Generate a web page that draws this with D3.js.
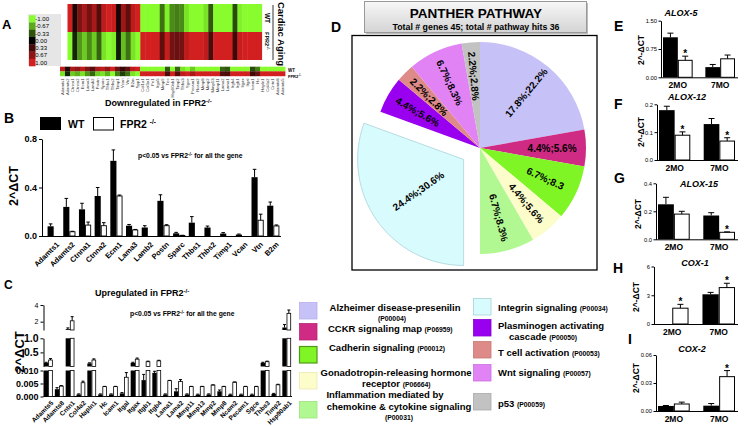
<!DOCTYPE html>
<html><head><meta charset="utf-8">
<script src="https://cdn.jsdelivr.net/npm/d3@7/dist/d3.min.js"></script>
<style>
html,body{margin:0;padding:0;background:#fff;}
svg{display:block;font-family:Arial,"Liberation Sans",Helvetica,sans-serif;}
</style></head><body>
<svg id="fig" width="745" height="426"></svg>
<script>
// ================= DATA =================
// Panel A heatmaps
const heatLegendValues = [-1, -0.67, -0.33, 0, 0.33, 0.67, 1];
const heatLegendLabels = ["-1.00", "-0.67", "-0.33", "0.00", "0.33", "0.67", "1.00"];
const heatRows = ["WT", "FPR2"];
const heatTopWT = [1, 0.15, 0.6, 0.8, 0.55, 0.8, 0.4, 0.9, 1, 0.95, 0.12, 0.75, 0.45, 0.9, 1,
  -1, -1, -1, -1, -0.45, -0.95, -0.55, -0.5, -0.55, -0.9, -1, -1, -1, -0.9, -0.35, -1, -1, -1, -1, -0.3, -0.95, -1, -1, -1, -1];
const heatGenes = ["Adamts1", "Adamts2", "Ctnna1", "Ctnna2", "Ecm1", "Lama3", "Lamb2", "Postn", "Sparc", "Thbs1", "Thbs2", "Timp1", "Vcan", "Vtn", "B2m", "Spp1",
  "Col1a1", "Col3a1", "Fn1", "Itga5", "Mmp9", "Tnc", "Hsp90ab1", "Timp2", "Thbs3", "Sgce", "Pecam1", "Ncam2", "Mmp8", "Mmp2", "Mmp13", "Mmp11", "Lama2", "Lama1",
  "Itgb4", "Itgb1", "Itgax", "Itgal", "Icam1", "Hc", "Hapln1", "Col4a2", "Cntn1", "Adamts8", "Adamts5"];
const heatBottomWT = [0.9, 0.15, 0.8, 0.7, 0.9, 0.6, 0.4, 0.8, 0.9, 0.7, 1, 0.5, 0.25, 0.45, 0.9, 1,
  -1, -1, -1, -1, -1, -0.35, -1, -0.4, -0.9, -1, -0.8, -1, -1, -1, -1, -1, -0.4, -0.35, -1, -1, -1, -1, -0.3, -0.5, -1, -1, -1, -1, -1];

// Panel B
const genesB = ["Adamts1", "Adamts2", "Ctnna1", "Ctnna2", "Ecm1", "Lama3", "Lamb2", "Postn", "Sparc", "Thbs1", "Thbs2", "Timp1", "Vcan", "Vtn", "B2m"];
const wtB = [0.08, 0.24, 0.22, 0.33, 0.62, 0.085, 0.07, 0.29, 0.022, 0.11, 0.07, 0.02, 0.012, 0.485, 0.25];
const wtBErr = [0.02, 0.07, 0.05, 0.07, 0.09, 0.01, 0.015, 0.05, 0.008, 0.05, 0.012, 0.008, 0.004, 0.065, 0.03];
const koB = [0, 0.035, 0.09, 0.085, 0.33, 0.05, 0, 0.085, 0.004, 0, 0, 0, 0, 0.13, 0.083];
const koBErr = [0, 0.004, 0.025, 0.025, 0.008, 0.004, 0, 0.008, 0.002, 0, 0, 0, 0, 0.05, 0.008];
const ticksB = [0, 0.4, 0.8];

// Panel C
const genesC = ["Adamts5", "Adamts8", "Cntn1", "Col4a2", "Hapln1", "Hc", "Icam1", "Itgal", "Itgax", "Itgb1", "Itgb4", "Lama1", "Lama2", "Mmp11", "Mmp13", "Mmp2", "Mmp8", "Ncam2", "Pecam1", "Sgce", "Thbs3", "Timp2", "Hsp90ab1"];
const wtC = [0.13, 0.0028, 1.1, 0.0008, 0.11, 0.0008, 0.0008, 0.0012, 0.13, 0.0063, 0.0091, 0.0008, 0.002, 0.0008, 0.0007, 0.0008, 0.002, 0.0007, 0.0007, 0.0007, 0.13, 0.001, 1.3];
const wtCErr = [0.02, 0.0006, 0.15, 0.0002, 0.02, 0.0002, 0.0002, 0.0003, 0.02, 0.0022, 0.0006, 0.0002, 0.001, 0.0002, 0.0002, 0.0002, 0.0005, 0.0002, 0.0002, 0.0002, 0.02, 0.0002, 0.35];
const koC = [0.23, 0.004, 2.1, 0.0053, 0.23, 0.0038, 0.0038, 0.0074, 0.26, 0.17, 0.2, 0.0061, 0.0058, 0.0038, 0.0038, 0.0044, 0.0038, 0.0055, 0.0038, 0.0038, 0.17, 0.0045, 3.0];
const koCErr = [0.05, 0.0002, 0.5, 0.0006, 0.04, 0.0001, 0.0001, 0.0018, 0.04, 0.02, 0.02, 0.0001, 0.0007, 0.0001, 0.0001, 0.0001, 0.0001, 0.0001, 0.0001, 0.0001, 0.02, 0.0002, 0.4];
const ticksCBottom = [0, 0.005, 0.01];
const ticksCMid = [0.5, 1];
const ticksCTop = [2, 4];

// Panel D (PANTHER pie)
const pathways = ["Alzheimer disease-presenilin", "CCKR signaling map", "Cadherin signaling", "Gonadotropin-releasing hormone receptor",
  "Inflammation mediated by chemokine & cytokine signaling", "Integrin signaling", "Plasminogen activating cascade", "T cell activation", "Wnt signaling", "p53"];
const pathwayIds = ["P00004", "P06959", "P00012", "P06664", "P00031", "P00034", "P00050", "P00053", "P00057", "P00059"];
const pathwayHits = [8, 2, 3, 2, 3, 11, 2, 1, 3, 1];
const pctGenes = ["17.8%", "4.4%", "6.7%", "4.4%", "6.7%", "24.4%", "4.4%", "2.2%", "6.7%", "2.2%"];
const pctHits = ["22.2%", "5.6%", "8.3", "5.6%", "8.3%", "30.6%", "5.6%", "2.8%", "8.3%", "2.8%"];
const pieColors = ["#c6c2f8", "#cf2a84", "#80f526", "#fdfccb", "#b2f892", "#d8fbfd", "#9a00f0", "#de8a88", "#e183f4", "#c2c2c2"];
const pieStroke = ["#b5b0ee", "#b82475", "#4f9a1a", "#ece9b4", "#9ee07e", "#a9d3d8", "#8500d0", "#c97876", "#cd70e0", "#aaaaaa"];

// Panels E-I
const groupsR = ["2MO", "7MO"];
const alox5WT = [1.06, 0.27], alox5WTErr = [0.11, 0.07], alox5KO = [0.45, 0.49], alox5KOErr = [0.11, 0.10];
const alox12WT = [0.179, 0.129], alox12WTErr = [0.014, 0.02], alox12KO = [0.089, 0.068], alox12KOErr = [0.012, 0.012];
const alox15WT = [0.25, 0.17], alox15WTErr = [0.05, 0.02], alox15KO = [0.18, 0.05], alox15KOErr = [0.02, 0.003];
const cox1WT = [0, 3.1], cox1WTErr = [0, 0.2], cox1KO = [1.65, 3.8], cox1KOErr = [0.4, 0.45];
const cox2WT = [0.0054, 0.0057], cox2WTErr = [0.0005, 0.0023], cox2KO = [0.0075, 0.0368], cox2KOErr = [0.002, 0.0065];

// ================= DRAW =================
const svg = d3.select("#fig");
function T(p, x, y, s, o = {}) {
  const t = p.append("text").attr("x", x).attr("y", y).text(s)
    .attr("font-size", o.size || 9).attr("font-weight", o.weight || "bold")
    .attr("text-anchor", o.anchor || "start").attr("fill", o.fill || "#000");
  if (o.rotate != null) t.attr("transform", `rotate(${o.rotate},${x},${y})`);
  if (o.style) t.attr("font-style", o.style);
  if (o.baseline) t.attr("dominant-baseline", o.baseline);
  return t;
}
function sup(t, s, size) { t.append("tspan").attr("font-size", size).attr("dy", -size * 0.55).text(s); }
function styleAxis(g, size, weight) {
  g.selectAll("text").attr("font-size", size).attr("font-weight", weight)
    .attr("font-family", "Arial, 'Liberation Sans', sans-serif").attr("fill", "#000");
  g.selectAll("path,line").attr("stroke", "#000").attr("stroke-width", 1);
}

// ---------- Panel A ----------
const heatColor = d3.scaleLinear().domain([-1, 0, 1]).range(["#88fc2c", "#000000", "#d21f1f"]);
const gA = svg.append("g");
T(gA, 2, 29, "A", { size: 13 });
gA.append("rect").attr("x", 28).attr("y", 14).attr("width", 33).attr("height", 52).attr("fill", "#e6e6e6");
const yLeg = d3.scaleBand().domain(heatLegendLabels).range([15.3, 66]);
heatLegendLabels.forEach((l, i) => {
  gA.append("rect").attr("x", 29).attr("y", yLeg(l)).attr("width", 6.5).attr("height", yLeg.bandwidth() + 0.3)
    .attr("fill", heatColor(heatLegendValues[i]));
  T(gA, 35.3, yLeg(l) + yLeg.bandwidth() / 2 + 2.2, l, { size: 6, weight: "normal" });
});
const xHT = d3.scaleBand().domain(d3.range(heatTopWT.length)).range([67.5, 261.7]);
const yHT = d3.scaleBand().domain(heatRows).range([4, 60]);
heatTopWT.forEach((v, i) => {
  heatRows.forEach(r => {
    gA.append("rect").attr("x", xHT(i)).attr("y", yHT(r)).attr("width", xHT.bandwidth() + 0.4).attr("height", yHT.bandwidth())
      .attr("fill", heatColor(r === "WT" ? v : -v));
  });
});
T(gA, 265, 18, "WT", { size: 6.5, anchor: "middle", rotate: 90 });
{ const t = T(gA, 265, 41, "FPR2", { size: 5.5, anchor: "middle", rotate: 90 }); sup(t, "-/-", 4); }
gA.append("line").attr("x1", 273).attr("x2", 273).attr("y1", 5).attr("y2", 60).attr("stroke", "#000").attr("stroke-width", 0.8);
T(gA, 277.5, 34, "Cardiac Aging", { size: 9.5, anchor: "middle", rotate: 90 });

const xHB = d3.scaleBand().domain(heatGenes).range([60, 285]);
const yHB = d3.scaleBand().domain(heatRows).range([66.7, 76]);
heatGenes.forEach((g, i) => {
  const v = heatBottomWT[i];
  heatRows.forEach(r => {
    gA.append("rect").attr("x", xHB(g)).attr("y", yHB(r)).attr("width", xHB.bandwidth() + 0.4).attr("height", yHB.bandwidth() + 0.2)
      .attr("fill", heatColor(r === "WT" ? v : -v));
  });
  T(gA, xHB(g) + xHB.bandwidth() / 2 + 1.5, 78.5, g, { size: 4.2, anchor: "end", rotate: -90, fill: "#333", weight: "normal" });
});
T(gA, 288, 72, "WT", { size: 4.5 });
{ const t = T(gA, 288, 77.5, "FPR2", { size: 4 }); sup(t, "-/-", 3); }
{ const t = T(gA, 105, 106, "Downregulated in FPR2", { size: 9 }); sup(t, "-/-", 6); }

// ---------- Panel B ----------
const gB = svg.append("g");
T(gB, 4, 123, "B", { size: 14 });
gB.append("rect").attr("x", 40).attr("y", 117).attr("width", 21).attr("height", 13).attr("fill", "#000");
T(gB, 68, 128, "WT", { size: 10.5 });
gB.append("rect").attr("x", 93.5).attr("y", 117.5).attr("width", 20).attr("height", 12.5).attr("fill", "#fff").attr("stroke", "#000");
{ const t = T(gB, 120, 128, "FPR2 ", { size: 10.5 }); sup(t, "-/-", 6.5); }

const xB = d3.scaleBand().domain(genesB).range([46, 281]).paddingInner(0.22).paddingOuter(0.1);
const yB = d3.scaleLinear().domain([0, 0.8]).range([236, 139]);
const axB = gB.append("g").attr("transform", "translate(42,0)")
  .call(d3.axisLeft(yB).tickValues(ticksB).tickFormat(d3.format(".1f")).tickSize(3).tickSizeOuter(0).tickPadding(2));
styleAxis(axB, 9, "bold");
gB.append("line").attr("x1", 42).attr("x2", 281).attr("y1", 236.5).attr("y2", 236.5).attr("stroke", "#000");
T(gB, 14, 186, "2^\u0394CT", { size: 12.5, anchor: "middle", rotate: -90, baseline: "central" });
{ const t = T(gB, 138, 158, "p<0.05 vs FPR2", { size: 6.8 }); sup(t, "-/-", 4.5); t.append("tspan").attr("dy", 6.8 * 0.55 * 0.66).text(" for all the gene"); }

function errBar(g, cx, yTop, yErr, cap) {
  g.append("line").attr("x1", cx).attr("x2", cx).attr("y1", yTop).attr("y2", yErr).attr("stroke", "#000").attr("stroke-width", 1);
  g.append("line").attr("x1", cx - cap).attr("x2", cx + cap).attr("y1", yErr).attr("y2", yErr).attr("stroke", "#000").attr("stroke-width", 1);
}
genesB.forEach((g, i) => {
  const bw = xB.bandwidth() / 2;
  const x0 = xB(g);
  if (wtB[i] > 0) {
    gB.append("rect").attr("x", x0).attr("y", yB(wtB[i])).attr("width", bw).attr("height", yB(0) - yB(wtB[i])).attr("fill", "#000");
    errBar(gB, x0 + bw / 2, yB(wtB[i]), yB(wtB[i] + wtBErr[i]), 1.8);
  }
  if (koB[i] > 0) {
    gB.append("rect").attr("x", x0 + bw + 0.5).attr("y", yB(koB[i])).attr("width", bw - 1).attr("height", yB(0) - yB(koB[i]))
      .attr("fill", "#fff").attr("stroke", "#000").attr("stroke-width", 0.9);
    errBar(gB, x0 + bw * 1.5, yB(koB[i]), yB(koB[i] + koBErr[i]), 1.8);
  }
  const cx = x0 + xB.bandwidth() / 2 + 2;
  T(gB, cx, 241, g, { size: 7.5, anchor: "end", rotate: -45, baseline: "hanging" });
});

// ---------- Panel C ----------
const gC = svg.append("g");
T(gC, 4, 289, "C", { size: 12 });
{ const t = T(gC, 95, 296, "Upregulated in FPR2", { size: 9 }); sup(t, "-/-", 6); }
const segBot = d3.scaleLinear().domain([0, 0.01]).range([396.5, 370.5]);
const segMid = d3.scaleLinear().domain([0, 1]).range([366.5, 338.3]);
const segTop = d3.scaleLinear().domain([1, 4]).range([330, 305]);
const axCb = gC.append("g").attr("transform", "translate(43.5,0)")
  .call(d3.axisLeft(segBot).tickValues(ticksCBottom).tickFormat(d3.format(".3f")).tickSize(3).tickSizeOuter(0).tickPadding(2));
styleAxis(axCb, 9, "bold");
const axCm = gC.append("g").attr("transform", "translate(43.5,0)")
  .call(d3.axisLeft(segMid).tickValues(ticksCMid).tickFormat(d3.format(".1f")).tickSize(3).tickSizeOuter(0).tickPadding(2));
styleAxis(axCm, 10.5, "bold");
const axCt = gC.append("g").attr("transform", "translate(43.5,0)")
  .call(d3.axisLeft(segTop).tickValues(ticksCTop).tickFormat(d3.format("d")).tickSize(3).tickSizeOuter(0).tickPadding(2));
styleAxis(axCt, 7, "normal");
gC.append("line").attr("x1", 43.5).attr("x2", 292).attr("y1", 396.5).attr("y2", 396.5).attr("stroke", "#000");
T(gC, 19, 352, "2^\u0394CT", { size: 13, anchor: "middle", rotate: -90, baseline: "central" });
{ const t = T(gC, 130, 316, "p<0.05 vs FPR2", { size: 6.8 }); sup(t, "-/-", 4.5); t.append("tspan").attr("dy", 6.8 * 0.55 * 0.66).text(" for all the gene"); }

const xC = d3.scaleBand().domain(genesC).range([44, 291]).paddingInner(0.2).paddingOuter(0);
function brokenBar(x, w, v, e, black) {
  const add = (y0, y1) => {
    const r = gC.append("rect").attr("x", x).attr("y", y1).attr("width", w).attr("height", Math.max(0, y0 - y1));
    if (black) r.attr("fill", "#000"); else r.attr("fill", "#fff").attr("stroke", "#000").attr("stroke-width", 0.8);
  };
  add(396.5, segBot(Math.min(v, 0.01)));
  if (v > 0.01) add(366.5, segMid(Math.min(v, 1)));
  if (v > 1) add(330, segTop(Math.min(v, 4)));
  const sc = v > 1 ? segTop : (v > 0.01 ? segMid : segBot);
  const top = v > 1 ? 4 : (v > 0.01 ? 1 : 0.01);
  errBar(gC, x + w / 2, sc(v), sc(Math.min(v + e, top)), 1.5);
}
genesC.forEach((g, i) => {
  const bw = xC.bandwidth() / 2;
  const x0 = xC(g);
  brokenBar(x0, bw, wtC[i], wtCErr[i], true);
  brokenBar(x0 + bw + 0.3, bw - 0.6, koC[i], koCErr[i], false);
  T(gC, x0 + xC.bandwidth() / 2 + 2, 400, g, { size: 6.5, anchor: "end", rotate: -45, baseline: "hanging" });
});

// ---------- Panel D ----------
const gD = svg.append("g");
T(gD, 331, 32, "D", { size: 14 });
const defs = svg.append("defs");
const grad = defs.append("linearGradient").attr("id", "tg").attr("x1", 0).attr("y1", 0).attr("x2", 0).attr("y2", 1);
grad.append("stop").attr("offset", "0%").attr("stop-color", "#f7f7f7");
grad.append("stop").attr("offset", "100%").attr("stop-color", "#d4d4d4");
gD.append("rect").attr("x", 366).attr("y", 3).attr("width", 222).attr("height", 31).attr("fill", "#bbb");
gD.append("rect").attr("x", 364.5).attr("y", 1.5).attr("width", 222).attr("height", 31).attr("fill", "url(#tg)").attr("stroke", "#999");
T(gD, 476, 18, "PANTHER PATHWAY", { size: 13.5, anchor: "middle" });
T(gD, 476, 29.5, "Total # genes 45; total # pathway hits 36", { size: 8.8, anchor: "middle" });
gD.append("rect").attr("x", 352).attr("y", 35.5).attr("width", 245).attr("height", 234.5).attr("fill", "none").attr("stroke", "#000").attr("stroke-width", 1.3);

const pieArcs = d3.pie().sort(null).value(d => d)(pathwayHits);
const R = 106, pcx = 480, pcy = 148;
const arcGen = d3.arc().innerRadius(0).outerRadius(R);
pieArcs.forEach((d, i) => {
  const mid = (d.startAngle + d.endAngle) / 2;
  const off = i === 5 ? 20 : 0;
  const ox = pcx + off * Math.sin(mid), oy = pcy - off * Math.cos(mid);
  gD.append("path").attr("d", arcGen(d)).attr("transform", `translate(${ox},${oy})`)
    .attr("fill", pieColors[i]).attr("stroke", i === 5 ? pieStroke[i] : "none").attr("stroke-width", 0.8);
});
pieArcs.forEach((d, i) => {
  const mid = (d.startAngle + d.endAngle) / 2;
  const off = i === 5 ? 20 : 0;
  const ox = pcx + off * Math.sin(mid), oy = pcy - off * Math.cos(mid);
  const rl = (i === 5 ? 0.52 : 0.68) * R;
  const lx = ox + rl * Math.sin(mid), ly = oy - rl * Math.cos(mid);
  const deg = mid * 180 / Math.PI;
  const rot = deg < 180 ? deg - 90 : deg - 270;
  T(gD, lx, ly, pctGenes[i] + ";" + pctHits[i], { size: 10, anchor: "middle", rotate: rot, baseline: "central" });
});

// legend
const gL = svg.append("g");
const legItems = [
  { i: 0, sx: 299, sy: 302, lines: [["Alzheimer disease-presenilin", 395, 310.5, "middle"], ["(P00004)", 392, 321, "middle", true]] },
  { i: 1, sx: 299, sy: 323, lines: [["CCKR signaling map ", 328, 331.5, "start", false, "(P06959)"]] },
  { i: 2, sx: 299, sy: 346, lines: [["Cadherin signaling ", 329, 350.5, "start", false, "(P00012)"]] },
  { i: 3, sx: 299, sy: 372, lines: [["Gonadotropin-releasing hormone", 396, 375.5, "middle"], ["receptor ", 362, 386.5, "start", false, "(P06664)"]] },
  { i: 4, sx: 299, sy: 401, lines: [["Inflammation mediated by", 385, 397.5, "middle"], ["chemokine & cytokine signaling", 399, 409.5, "middle"], ["(P00031)", 399, 420, "middle", true]] },
  { i: 5, sx: 473, sy: 298, lines: [["Integrin signaling ", 498, 310.5, "start", false, "(P00034)"]] },
  { i: 6, sx: 473, sy: 319, lines: [["Plasminogen activating", 498, 328.5, "start"], ["cascade ", 509, 340, "start", false, "(P00050)"]] },
  { i: 7, sx: 473, sy: 341, lines: [["T cell activation ", 498, 355.5, "start", false, "(P00053)"]] },
  { i: 8, sx: 473, sy: 364, lines: [["Wnt signaling ", 498, 375.5, "start", false, "(P00057)"]] },
  { i: 9, sx: 473, sy: 393, lines: [["p53 ", 498, 406.5, "start", false, "(P00059)"]] }
];
legItems.forEach(it => {
  gL.append("rect").attr("x", it.sx + 0.5).attr("y", it.sy + 0.5).attr("width", 17.5).attr("height", 16.5)
    .attr("fill", pieColors[it.i]).attr("stroke", pieStroke[it.i]).attr("stroke-width", it.i === 2 ? 1.2 : 0.8);
  it.lines.forEach(l => {
    const t = T(gL, l[1], l[2], l[0], { size: l[4] ? 6.8 : 9.5, anchor: l[3] });
    if (l[5]) t.append("tspan").attr("font-size", 6.8).text(l[5]);
  });
});

// ---------- Panels E-I ----------
function smallPanel(c) {
  const g = svg.append("g");
  const y = d3.scaleLinear().domain([0, c.max]).range([c.y0, c.yTop]);
  const x = d3.scaleBand().domain(groupsR).range([c.ax + 2, 735]).paddingInner(0.3).paddingOuter(0);
  const ax = g.append("g").attr("transform", `translate(${c.ax},0)`)
    .call(d3.axisLeft(y).tickValues(c.ticks).tickFormat(d3.format(c.fmt)).tickSize(2.5).tickSizeOuter(0).tickPadding(1.5));
  styleAxis(ax, 5.8, "normal");
  g.append("line").attr("x1", c.ax).attr("x2", 738).attr("y1", c.y0 + 0.5).attr("y2", c.y0 + 0.5).attr("stroke", "#000");
  T(g, c.lx, c.ly, c.letter, { size: 14 });
  T(g, c.tx, c.ty, c.title, { size: 9, anchor: "middle", style: "italic" });
  T(g, c.yx, c.yy, "2^-\u0394CT", { size: 8.5, anchor: "middle", rotate: -90, baseline: "central" });
  groupsR.forEach((gr, i) => {
    const bw = x.bandwidth() / 2, x0 = x(gr);
    if (c.wt[i] > 0) {
      g.append("rect").attr("x", x0).attr("y", y(c.wt[i])).attr("width", bw).attr("height", c.y0 - y(c.wt[i])).attr("fill", "#000");
      errBar(g, x0 + bw / 2, y(c.wt[i]), y(c.wt[i] + c.wtE[i]), 3);
    }
    g.append("rect").attr("x", x0 + bw + 0.5).attr("y", y(c.ko[i])).attr("width", bw - 1).attr("height", c.y0 - y(c.ko[i]))
      .attr("fill", "#fff").attr("stroke", "#000").attr("stroke-width", 1);
    errBar(g, x0 + bw * 1.5, y(c.ko[i]), y(c.ko[i] + c.koE[i]), 3);
    if (c.stars[i]) T(g, x0 + bw * 1.5, y(c.ko[i] + c.koE[i]) + 1, "*", { size: 10, anchor: "middle" });
    T(g, x0 + x.bandwidth() / 2, c.y0 + 10.5, gr, { size: 8.5, anchor: "middle" });
  });
}
smallPanel({ letter: "E", lx: 614, ly: 31, title: "ALOX-5", tx: 681, ty: 15.5, ax: 661, y0: 77.3, yTop: 20.7, max: 1.5, ticks: [0, 0.75, 1.5], fmt: ".2f", yx: 641, yy: 50, wt: alox5WT, wtE: alox5WTErr, ko: alox5KO, koE: alox5KOErr, stars: [true, false] });
smallPanel({ letter: "F", lx: 614, ly: 109, title: "ALOX-12", tx: 687, ty: 100, ax: 657, y0: 160, yTop: 104.3, max: 0.2, ticks: [0, 0.1, 0.2], fmt: ".1f", yx: 641, yy: 132, wt: alox12WT, wtE: alox12WTErr, ko: alox12KO, koE: alox12KOErr, stars: [true, true] });
smallPanel({ letter: "G", lx: 614, ly: 183, title: "ALOX-15", tx: 699, ty: 186.5, ax: 656, y0: 239.3, yTop: 183.3, max: 0.4, ticks: [0, 0.2, 0.4], fmt: ".1f", yx: 637.5, yy: 214, wt: alox15WT, wtE: alox15WTErr, ko: alox15KO, koE: alox15KOErr, stars: [false, true] });
smallPanel({ letter: "H", lx: 613, ly: 273, title: "COX-1", tx: 695, ty: 265.5, ax: 654, y0: 324, yTop: 266.5, max: 6, ticks: [0, 3, 6], fmt: "d", yx: 636, yy: 297, wt: cox1WT, wtE: cox1WTErr, ko: cox1KO, koE: cox1KOErr, stars: [true, true] });
smallPanel({ letter: "I", lx: 628, ly: 344, title: "COX-2", tx: 692, ty: 352, ax: 656, y0: 411, yTop: 355, max: 0.06, ticks: [0, 0.03, 0.06], fmt: ".2f", yx: 636, yy: 378, wt: cox2WT, wtE: cox2WTErr, ko: cox2KO, koE: cox2KOErr, stars: [false, true] });
</script></body></html>
